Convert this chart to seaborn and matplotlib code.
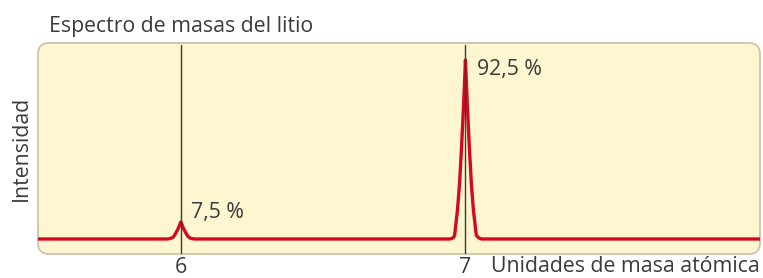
import matplotlib
matplotlib.use("Agg")
import matplotlib.pyplot as plt
import seaborn as sns
import pandas as pd
from matplotlib.patches import FancyBboxPatch

# ---- data ----
isotope_mass = [6, 7]
abundance_labels = ["7,5 %", "92,5 %"]
label_y = [10.9, 84.8]

spectrum_x = [5.498, 5.947, 5.958, 5.968, 5.975, 5.982, 5.990, 5.995, 6.000,
              6.005, 6.010, 6.018, 6.025, 6.032, 6.042, 6.053,
              6.944, 6.951, 6.958, 6.962, 6.972, 6.979, 6.986, 6.993, 6.998, 7.000,
              7.002, 7.007, 7.014, 7.021, 7.028, 7.038, 7.045, 7.052, 7.058, 8.035]
spectrum_y = [0.0, 0.0, 0.1, 0.5, 1.3, 3.0, 5.2, 7.0, 8.8,
              7.0, 5.2, 3.0, 1.3, 0.5, 0.1, 0.0,
              0.0, 0.2, 0.8, 2.0, 15.0, 28.0, 46.5, 68.0, 85.0, 92.5,
              85.0, 68.0, 46.5, 28.0, 15.0, 2.0, 0.8, 0.2, 0.0, 0.0]

title = "Espectro de masas del litio"
ylabel = "Intensidad"
xlabel = "Unidades de masa atómica"

sns.set_theme(style="white")
plt.rcParams["font.family"] = ["Open Sans", "DejaVu Sans"]

W, H = 763, 278
fig = plt.figure(figsize=(W / 100, H / 100), dpi=100)
fig.patch.set_facecolor("white")

# panel in pixels
L, T, R, B = 38, 43, 760, 254
ax = fig.add_axes([L / W, (H - B) / H, (R - L) / W, (B - T) / H])
ax.patch.set_visible(False)
for s in ax.spines.values():
    s.set_visible(False)

panel = FancyBboxPatch((L / 100, (H - B) / 100), (R - L) / 100, (B - T) / 100,
                       boxstyle="round,pad=0,rounding_size=0.11",
                       transform=fig.dpi_scale_trans,
                       facecolor="#fdf6d1", edgecolor="#c9c5ad", linewidth=1.3,
                       zorder=-1)
fig.add_artist(panel)

df = pd.DataFrame({"masa": spectrum_x, "intensidad": spectrum_y})
sns.lineplot(data=df, x="masa", y="intensidad", ax=ax, color="#d5091e",
             linewidth=2.4, sort=False, estimator=None,
             solid_joinstyle="round", solid_capstyle="butt", zorder=2)

ax.set_xlim(5.498, 8.035)
ax.set_ylim(-7.75, 101.3)

for m in isotope_mass:
    ax.axvline(m, ymin=0, ymax=0.99, color="#3a3a3a", linewidth=1.0, zorder=3)

txt_color = "#3b3b3b"
fs = 15.3
offsets = [0.035, 0.040]
for m, lab, ly, off in zip(isotope_mass, abundance_labels, label_y, offsets):
    ax.text(m + off, ly, lab, fontsize=fs, color=txt_color, ha="left", va="baseline")

ax.set_xticks(isotope_mass)
ax.set_xticklabels([str(m) for m in isotope_mass])
ax.tick_params(axis="x", length=0, pad=2, labelsize=fs, labelcolor=txt_color)
ax.set_yticks([])

ax.set_xlabel(xlabel, fontsize=fs, color=txt_color)
ax.xaxis.set_label_coords(1.0, (B - 256) / (B - T))
ax.xaxis.label.set_ha("right")
ax.xaxis.label.set_va("top")

ax.set_ylabel(ylabel, fontsize=fs, color=txt_color)
ax.yaxis.label.set_va("baseline")
ax.yaxis.set_label_coords((26.7 - L) / (R - L), 0.5)

fig.text(49 / W, 1 - 32.3 / H, title, fontsize=fs, color=txt_color,
         ha="left", va="baseline")

fig.savefig("out.png", dpi=100)
